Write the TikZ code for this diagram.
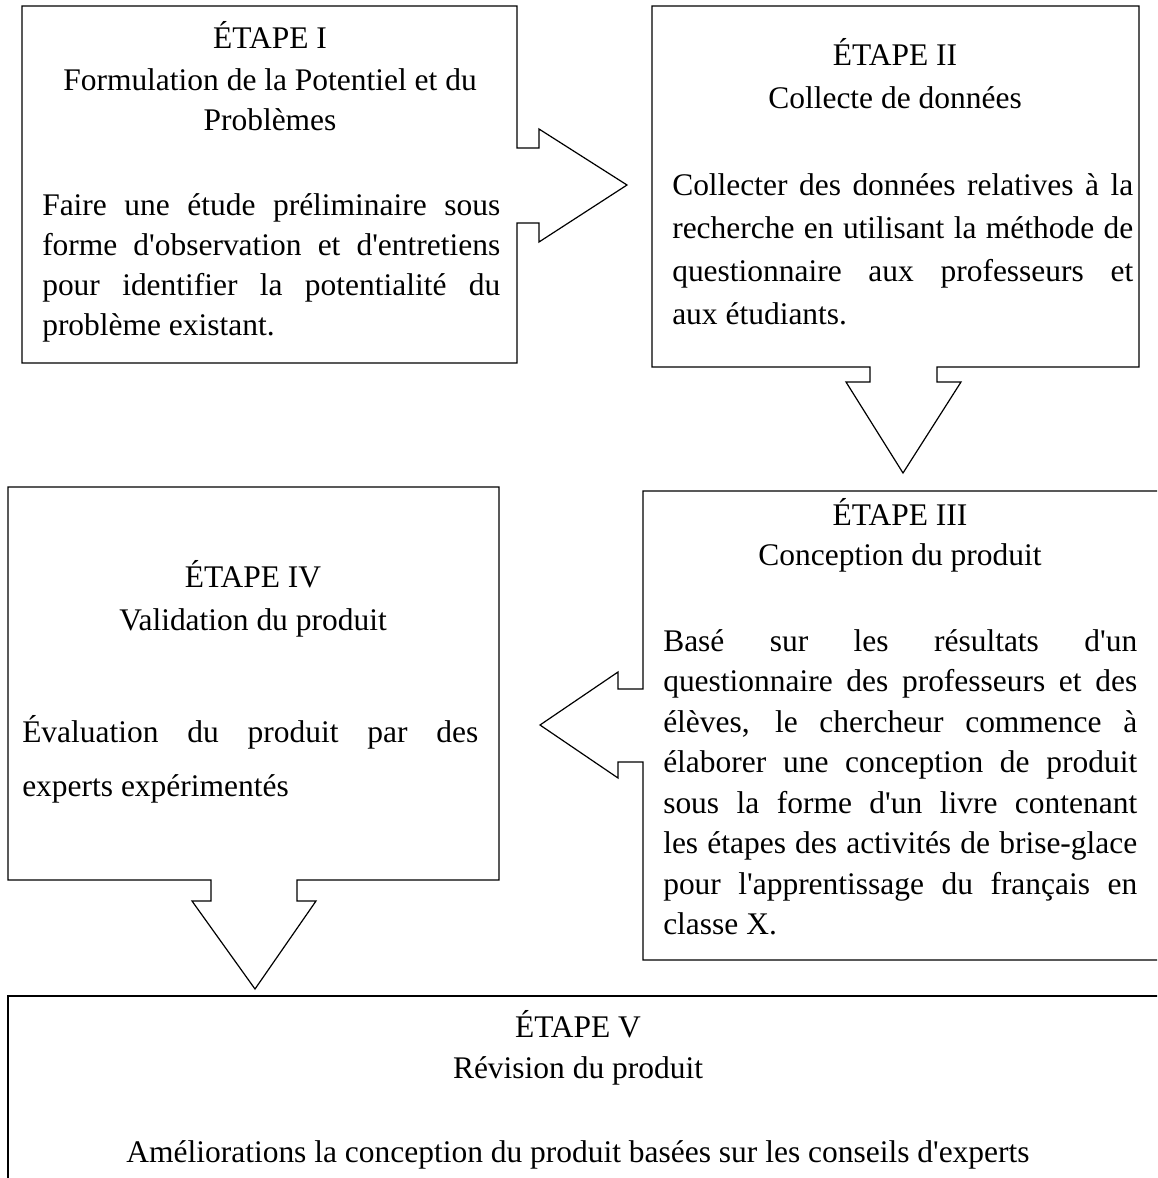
\documentclass[tikz,border=0pt]{standalone}
\usepackage{fontspec}
\setmainfont{Liberation Serif}
\newcommand{\myap}{\textquotesingle}
\begin{document}
\begin{tikzpicture}[x=0.75pt,y=-0.75pt,
  outline/.style={draw=black, line width=0.9pt, line join=miter},
  txt/.style={inner sep=0pt, font=\fontsize{23.6}{30}\selectfont},
  ctr/.style={txt, anchor=base},
  lft/.style={txt, anchor=base west}]
\useasboundingbox (0,0) rectangle (1157,1178);
\begin{scope}
\clip (0,0) rectangle (1157,1178);
% box I with arrow to box II
\draw[outline] (517,148) -- (539,148) -- (539,129) -- (627,185) -- (539,242) -- (539,223) -- (517,223)
  -- (517,363) -- (22,363) -- (22,6) -- (517,6) -- cycle;
% box II with arrow to box III
\draw[outline] (937,367) -- (937,382) -- (961,382) -- (903,473) -- (846,382) -- (870,382) -- (870,367)
  -- (652,367) -- (652,6) -- (1139,6) -- (1139,367) -- cycle;
% box III with arrow to box IV
\draw[outline] (643,689) -- (618,689) -- (618,672) -- (540,725) -- (618,778) -- (618,762) -- (643,762)
  -- (643,960) -- (1180,960) -- (1180,491) -- (643,491) -- cycle;
% box IV with arrow to box V
\draw[outline] (211,880) -- (211,901) -- (192,901) -- (255,989) -- (316,901) -- (297,901) -- (297,880)
  -- (499,880) -- (499,487) -- (8,487) -- (8,880) -- cycle;
% box V
\draw[outline] (8,1200) -- (8,996) -- (1180,996) -- (1180,1200);
\end{scope}
% texts box I
\node[ctr] (t1a) at (270,48) {ÉTAPE I};
\node[ctr] (t1b) at (270,90) {Formulation de la Potentiel et du};
\node[ctr] (t1c) at (270,130) {Problèmes};
\foreach \t [count=\i from 0] in {{Faire une étude préliminaire sous},{forme d\myap observation et d\myap entretiens},{pour identifier la potentialité du}}
  \node[lft] (b1l\i) at (42,{215+40*\i}) {\makebox[343.5pt][s]{\t}};
\node[lft] (b1l3) at (42,335) {problème existant.};
% texts box II
\node[ctr] (t2a) at (895,65) {ÉTAPE II};
\node[ctr] (t2b) at (895,108) {Collecte de données};
\foreach \t [count=\i from 0] in {{Collecter des données relatives à la},{recherche en utilisant la méthode de},{questionnaire aux professeurs et}}
  \node[lft] (b2l\i) at (672,{195+43*\i}) {\makebox[345.75pt][s]{\t}};
\node[lft] (b2l3) at (672,324) {aux étudiants.};
% texts box III
\node[ctr] (t3a) at (900,525) {ÉTAPE III};
\node[ctr] (t3b) at (900,565) {Conception du produit};
\foreach \t [count=\i from 0] in {{Basé sur les résultats d\myap un},{questionnaire des professeurs et des},{élèves, le chercheur commence à},{élaborer une conception de produit},{sous la forme d\myap un livre contenant},{les étapes des activités de brise-glace},{pour l\myap apprentissage du français en}}
  \node[lft] (b3l\i) at (663,{651+40.5*\i}) {\makebox[355.5pt][s]{\t}};
\node[lft] (b3l7) at (663,934.5) {classe X.};
% texts box IV
\node[ctr] (t4a) at (253,587) {ÉTAPE IV};
\node[ctr] (t4b) at (253,630) {Validation du produit};
\node[lft] (b4l0) at (22,742) {\makebox[342pt][s]{Évaluation du produit par des}};
\node[lft] (b4l1) at (22,796) {experts expérimentés};
% texts box V
\node[ctr] (t5a) at (578,1037) {ÉTAPE V};
\node[ctr] (t5b) at (578,1078) {Révision du produit};
\node[ctr] (t5c) at (578,1162) {Améliorations la conception du produit basées sur les conseils d\myap experts};
\end{tikzpicture}
\end{document}
